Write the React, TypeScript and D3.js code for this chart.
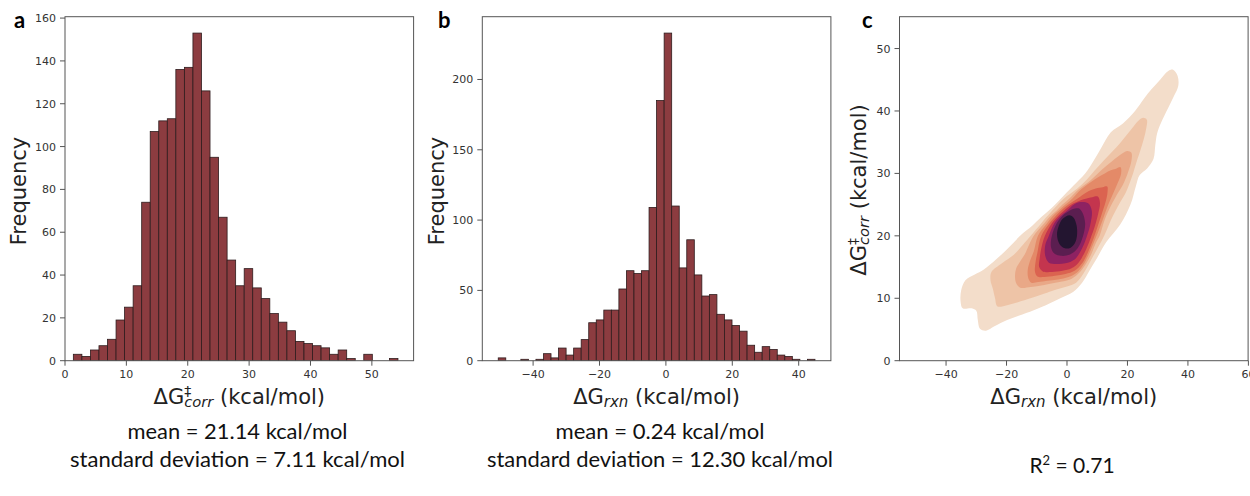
import React from 'react';
import * as d3 from 'd3';

// ---- panel a : ΔG‡corr histogram ----
const corrCounts = [3, 2, 5, 7, 10, 19, 25, 35, 74, 107, 112, 113, 136, 137, 153, 126, 95, 67, 47, 35, 43, 34, 29, 22, 18, 14, 9, 8, 7, 6, 3, 5, 1, 0, 3, 0, 0, 1];
const corrRange = [1.36, 54.25];
const corrXDomain = [0, 56.8];
const corrYMax = 160.65;
const corrXTicks = [0, 10, 20, 30, 40, 50];
const corrYTicks = [0, 20, 40, 60, 80, 100, 120, 140, 160];

// ---- panel b : ΔGrxn histogram ----
const rxnCounts = [2, 0, 0, 1, 0, 1, 5, 2, 9, 4, 9, 15, 27, 29, 36, 36, 51, 64, 62, 64, 109, 185, 233, 110, 66, 86, 61, 46, 47, 33, 29, 25, 21, 11, 6, 10, 8, 4, 3, 1, 0, 1];
const rxnRange = [-50.5, 44.9];
const rxnXDomain = [-55.3, 49.7];
const rxnYMax = 244.65;
const rxnXTicks = [-40, -20, 0, 20, 40];
const rxnYTicks = [0, 50, 100, 150, 200];

// ---- panel c : KDE filled contour outlines [ΔGrxn, ΔG‡corr], outermost first ----
const kdeRing1 = [[35.1, 46.6], [36.6, 45.6], [36.8, 44], [35.5, 42.5], [33.5, 40.5], [31, 38], [29.8, 36.4], [29.2, 34.5], [28.6, 32.3], [26.5, 30.8], [24, 29.7], [22.8, 28], [21, 25], [17.6, 21.8], [13, 19], [10, 16.5], [7.5, 14.5], [5, 12.5], [2, 11], [-2.2, 10], [-7, 8.9], [-11, 8.1], [-16, 7.2], [-19.8, 6.5], [-24, 5.5], [-26.8, 4.8], [-28.8, 5.1], [-29.5, 6.5], [-30, 8], [-31.5, 8.4], [-34.5, 8.4], [-35.2, 9.5], [-35, 11.3], [-33.6, 12.9], [-30.5, 13.8], [-27.5, 14.6], [-23.5, 16.2], [-19.5, 18], [-15.5, 20], [-11.5, 21.6], [-8.5, 23], [-5, 24.5], [-2, 26], [2, 28], [6, 30], [9, 32.2], [11.2, 34], [14.5, 36.6], [18.5, 38], [22.5, 40], [25.5, 42], [28, 43.5], [30.8, 45], [33.5, 46.4]];
const kdeRing2 = [[25.2, 38.9], [26.4, 38.6], [26.2, 37.2], [25.4, 35.5], [24.2, 33.6], [23.1, 32], [21.5, 29.5], [19.5, 27], [17.5, 25.3], [14.5, 22.5], [12.3, 20], [8.5, 16.6], [5.5, 14], [3, 12.5], [0, 11.9], [-3.5, 11.4], [-6.6, 10.9], [-12.1, 10], [-16, 9.4], [-19.8, 8.9], [-23, 8.7], [-23.8, 10], [-24.5, 11.5], [-25.3, 12.9], [-25, 14.2], [-21.5, 15.6], [-17.5, 17], [-14.5, 18.6], [-12, 20], [-8.5, 22], [-6.8, 23], [-4, 24.5], [-1, 26], [3.2, 27.5], [6.5, 29], [9.2, 30.5], [12, 32], [15, 33.5], [17.8, 35], [20, 36.3], [22, 37.5], [23.8, 38.5]];
const kdeRing3 = [[20, 33.6], [21.3, 33.3], [21.3, 32], [20.2, 30.2], [18.5, 28.2], [16.5, 26.6], [14.2, 24.5], [12.5, 22.6], [10.8, 20], [9.5, 18.8], [8, 17], [6.5, 15.7], [5, 14.6], [3, 13.6], [1, 13], [-2.5, 12.6], [-6, 12.3], [-9, 12], [-12, 11.8], [-15.5, 11.7], [-16.8, 12.4], [-17.2, 13.6], [-16.8, 14.8], [-15.5, 15.9], [-14, 17], [-12.5, 18.6], [-11, 20], [-7.5, 22], [-5.8, 23], [-3.5, 24], [-1.5, 25], [0.8, 26], [4, 27.5], [8, 29], [11.5, 30.6], [15, 32], [18, 33.1]];
const kdeRing4 = [[16, 30.7], [17.7, 31], [17.9, 30], [16.8, 28.5], [15, 26.5], [13.5, 24.8], [12, 22.8], [10.2, 20.5], [8.5, 18.5], [7, 16.8], [5.2, 15.2], [3.2, 14.1], [0.5, 13.4], [-3, 13], [-6.5, 12.8], [-9.5, 12.6], [-11.8, 12.5], [-12.8, 13.2], [-13, 14.5], [-12.3, 15.9], [-11, 17.5], [-9.6, 20], [-6.6, 22], [-5, 23], [-2.8, 24], [-0.5, 25], [1.8, 26], [4.8, 27.5], [9, 29], [12.5, 30], [14.5, 30.5]];
const kdeRing5 = [[11.8, 27.8], [13.3, 27.9], [13.4, 27], [12.8, 25.5], [11.5, 23.5], [10, 21.3], [9.1, 20], [8.5, 19.2], [6.8, 17.2], [5, 15.6], [2.5, 14.4], [-0.5, 13.9], [-4, 13.6], [-7.5, 13.4], [-9.8, 13.5], [-10.6, 14.3], [-10.4, 15.8], [-9.8, 17.3], [-8.5, 20], [-5.8, 22], [-4, 23], [-2, 24], [0.5, 25], [3.5, 26], [6.5, 27], [9.5, 27.6]];
const kdeRing6 = [[8.3, 26.2], [10.2, 26.3], [10.9, 25.3], [10.3, 23.5], [9, 21.2], [8.1, 20], [7.5, 19.2], [5.8, 17.3], [3.8, 15.7], [1.5, 14.8], [-1.5, 14.4], [-5, 14.2], [-8, 14.3], [-9.2, 15], [-9, 16.5], [-8.5, 18], [-7.3, 20], [-5, 22], [-3.2, 23], [-1, 24], [1.5, 25], [4.5, 25.7], [6.5, 26]];
const kdeRing7 = [[4.5, 25.4], [7, 25.2], [8.2, 24], [7.8, 22], [6.5, 19.8], [4.8, 17.8], [2.5, 16.2], [-0.5, 15.6], [-3.5, 15.5], [-6, 15.7], [-7.2, 16.8], [-7.2, 18.5], [-6, 20], [-4.2, 22], [-2.5, 23], [0, 24], [2.3, 25]];
const kdeRing8 = [[2, 24.3], [3.8, 24.4], [5, 23.8], [6, 22], [5.2, 19.8], [3.5, 18], [1, 17], [-2, 16.8], [-4.3, 17.2], [-5.3, 18.2], [-5, 20], [-3.4, 22], [-1.3, 23.3], [0.8, 24]];
const kdeRing9 = [[0.8, 23.3], [2.2, 22.9], [3.2, 21.6], [3.3, 20], [2.6, 18.8], [1.2, 18.1], [-0.7, 18], [-2.5, 18.7], [-3.3, 20.2], [-2.7, 21.6], [-1.5, 22.7]];
const kdeRings = [kdeRing1, kdeRing2, kdeRing3, kdeRing4, kdeRing5, kdeRing6, kdeRing7, kdeRing8, kdeRing9];
const kdeColors = ['#f3ddca', '#eec4a7', '#e9a887', '#e48a68', '#db6350', '#c4354e', '#8e2262', '#5b1e50', '#231530'];
const kdeXDomain = [-55.4, 59.9];
const kdeYDomain = [0, 55.1];
const kdeXTicks = [-40, -20, 0, 20, 40, 60];
const kdeYTicks = [0, 10, 20, 30, 40, 50];

const corrStats = ['mean = 21.14 kcal/mol', 'standard deviation = 7.11 kcal/mol'];
const corrStatWidths = [220, 335];
const rxnStats = ['mean = 0.24 kcal/mol', 'standard deviation = 12.30 kcal/mol'];
const rxnStatWidths = [209, 346];

const W = 1250;
const H = 496;
const TOP = 16.7;
const PH = 344;
const PW = 348.6;
const LEFTS = [65, 482.3, 899.5];

const TICK_FONT = 'DejaVu Sans, sans-serif';
const TEXT_FONT = 'Lato, sans-serif';
const fmt = (n: number) => (n < 0 ? `\u2212${-n}` : `${n}`);

const Frame = ({ x, y, left, xTicks, yTicks }: any) => (
  <g fontFamily={TICK_FONT} fontSize={11} fill="#333">
    <rect x={left} y={TOP} width={PW} height={PH} fill="none" stroke="#555" strokeWidth={1} />
    {xTicks.map((t: number) => (
      <g key={'x' + t} transform={`translate(${x(t)},${TOP + PH})`}>
        <line y2={5} stroke="#555" />
        <text y={17.5} textAnchor="middle">{fmt(t)}</text>
      </g>
    ))}
    {yTicks.map((t: number) => (
      <g key={'y' + t} transform={`translate(${left},${y(t)})`}>
        <line x2={-5} stroke="#555" />
        <text x={-9} dy="0.36em" textAnchor="end">{fmt(t)}</text>
      </g>
    ))}
  </g>
);

const CorrLabel = () => (
  <>
    <tspan>ΔG</tspan>
    <tspan fontSize={14} dy={-8}>‡</tspan>
    <tspan fontSize={14.7} fontStyle="italic" dx={-7} dy={11}>corr</tspan>
    <tspan dy={-3}>{' (kcal/mol)'}</tspan>
  </>
);

const RxnLabel = () => (
  <>
    <tspan>ΔG</tspan>
    <tspan fontSize={15} fontStyle="italic" dy={3}>rxn</tspan>
    <tspan dy={-3}>{' (kcal/mol)'}</tspan>
  </>
);

const Histogram = ({ counts, range, xDomain, yMax, xTicks, yTicks, left }: any) => {
  const x = d3.scaleLinear().domain(xDomain).range([left, left + PW]);
  const y = d3.scaleLinear().domain([0, yMax]).range([TOP + PH, TOP]);
  const step = (range[1] - range[0]) / counts.length;
  return (
    <g>
      <clipPath id={'clip' + left}>
        <rect x={left} y={TOP} width={PW} height={PH} />
      </clipPath>
      <g clipPath={`url(#clip${left})`}>
        {counts.map((c: number, i: number) =>
          c > 0 ? (
            <rect
              key={i}
              x={x(range[0] + i * step)}
              width={x(range[0] + (i + 1) * step) - x(range[0] + i * step)}
              y={y(c)}
              height={y(0) - y(c)}
              fill="#8c3c40"
              stroke="#2e1c1d"
              strokeWidth={0.8}
            />
          ) : null
        )}
      </g>
      <Frame x={x} y={y} left={left} xTicks={xTicks} yTicks={yTicks} />
    </g>
  );
};

const KdePanel = ({ left }: any) => {
  const x = d3.scaleLinear().domain(kdeXDomain).range([left, left + PW]);
  const y = d3.scaleLinear().domain(kdeYDomain).range([TOP + PH, TOP]);
  const line = d3
    .line<number[]>()
    .x((d) => x(d[0]))
    .y((d) => y(d[1]))
    .curve(d3.curveCatmullRomClosed.alpha(0.5));
  return (
    <g>
      <clipPath id="clipKde">
        <rect x={left} y={TOP} width={PW} height={PH} />
      </clipPath>
      <g clipPath="url(#clipKde)">
        {kdeRings.map((ring, i) => (
          <path key={i} d={line(ring) || ''} fill={kdeColors[i]} />
        ))}
      </g>
      <Frame x={x} y={y} left={left} xTicks={kdeXTicks} yTicks={kdeYTicks} />
    </g>
  );
};

const StatLines = ({ lines, widths, cx }: any) => (
  <g fontFamily={TEXT_FONT} fontSize={22} fill="#111" textAnchor="middle">
    {lines.map((s: string, i: number) => (
      <text key={i} x={cx} y={439 + i * 28} textLength={widths[i]} lengthAdjust="spacingAndGlyphs">{s}</text>
    ))}
  </g>
);

export default function App() {
  const centers = LEFTS.map((l) => l + PW / 2);
  return (
    <svg width={W} height={H} style={{ position: 'absolute', left: 0, top: 0, background: '#fff' }}>
      <Histogram counts={corrCounts} range={corrRange} xDomain={corrXDomain} yMax={corrYMax} xTicks={corrXTicks} yTicks={corrYTicks} left={LEFTS[0]} />
      <Histogram counts={rxnCounts} range={rxnRange} xDomain={rxnXDomain} yMax={rxnYMax} xTicks={rxnXTicks} yTicks={rxnYTicks} left={LEFTS[1]} />
      <KdePanel left={LEFTS[2]} />

      <g fontFamily={TICK_FONT} fontSize={21} fill="#222">
        <text transform="translate(25.5,191) rotate(-90)" textAnchor="middle">Frequency</text>
        <text transform="translate(443.5,191) rotate(-90)" textAnchor="middle">Frequency</text>
        <text transform="translate(866,190) rotate(-90)" textAnchor="middle"><CorrLabel /></text>
        <text x={centers[0]} y={404} textAnchor="middle"><CorrLabel /></text>
        <text x={centers[1]} y={404} textAnchor="middle"><RxnLabel /></text>
        <text x={centers[2]} y={404} textAnchor="middle"><RxnLabel /></text>
      </g>

      <g fontFamily={TEXT_FONT} fontSize={22} fontWeight="bold" fill="#000">
        <text x={14} y={28}>a</text>
        <text x={438} y={28}>b</text>
        <text x={862} y={28}>c</text>
      </g>

      <StatLines lines={corrStats} widths={corrStatWidths} cx={237.5} />
      <StatLines lines={rxnStats} widths={rxnStatWidths} cx={660} />
      <text x={1072} y={473} fontFamily={TEXT_FONT} fontSize={21} fill="#111" textAnchor="middle">
        R<tspan fontSize={13} dy={-8}>2</tspan><tspan dy={8}>{' = 0.71'}</tspan>
      </text>
    </svg>
  );
}
